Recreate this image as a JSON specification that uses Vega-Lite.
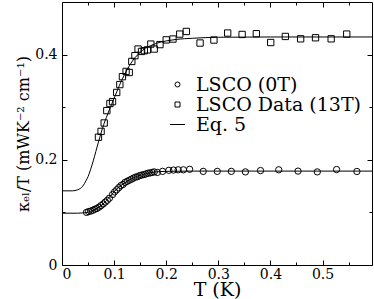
{
  "$schema": "https://vega.github.io/schema/vega-lite/v6.json",
  "width": 310,
  "height": 263,
  "autosize": {"type": "none"},
  "padding": {"left": 62, "top": 2, "right": 2, "bottom": 34},
  "datasets": {
    "fit": [
      {"curve": "B", "T": 0, "k": 0.141}, {"curve": "B", "T": 0.02, "k": 0.141}, {"curve": "B", "T": 0.03, "k": 0.143},
      {"curve": "B", "T": 0.04, "k": 0.15}, {"curve": "B", "T": 0.046, "k": 0.16}, {"curve": "B", "T": 0.05, "k": 0.168},
      {"curve": "B", "T": 0.055, "k": 0.182}, {"curve": "B", "T": 0.06, "k": 0.198}, {"curve": "B", "T": 0.065, "k": 0.216},
      {"curve": "B", "T": 0.07, "k": 0.234}, {"curve": "B", "T": 0.075, "k": 0.251}, {"curve": "B", "T": 0.08, "k": 0.267},
      {"curve": "B", "T": 0.085, "k": 0.28}, {"curve": "B", "T": 0.09, "k": 0.293}, {"curve": "B", "T": 0.095, "k": 0.305},
      {"curve": "B", "T": 0.1, "k": 0.317}, {"curve": "B", "T": 0.105, "k": 0.329}, {"curve": "B", "T": 0.11, "k": 0.341},
      {"curve": "B", "T": 0.115, "k": 0.352}, {"curve": "B", "T": 0.12, "k": 0.362}, {"curve": "B", "T": 0.13, "k": 0.38},
      {"curve": "B", "T": 0.14, "k": 0.394}, {"curve": "B", "T": 0.15, "k": 0.404}, {"curve": "B", "T": 0.16, "k": 0.412},
      {"curve": "B", "T": 0.17, "k": 0.417}, {"curve": "B", "T": 0.18, "k": 0.421}, {"curve": "B", "T": 0.19, "k": 0.424},
      {"curve": "B", "T": 0.2, "k": 0.426}, {"curve": "B", "T": 0.22, "k": 0.429}, {"curve": "B", "T": 0.25, "k": 0.431},
      {"curve": "B", "T": 0.3, "k": 0.433}, {"curve": "B", "T": 0.4, "k": 0.4335}, {"curve": "B", "T": 0.595, "k": 0.4335},
      {"curve": "A", "T": 0, "k": 0.0985}, {"curve": "A", "T": 0.03, "k": 0.0985}, {"curve": "A", "T": 0.04, "k": 0.099},
      {"curve": "A", "T": 0.05, "k": 0.1005}, {"curve": "A", "T": 0.06, "k": 0.104}, {"curve": "A", "T": 0.07, "k": 0.109},
      {"curve": "A", "T": 0.08, "k": 0.117}, {"curve": "A", "T": 0.09, "k": 0.128}, {"curve": "A", "T": 0.1, "k": 0.139},
      {"curve": "A", "T": 0.11, "k": 0.149}, {"curve": "A", "T": 0.12, "k": 0.156}, {"curve": "A", "T": 0.13, "k": 0.162},
      {"curve": "A", "T": 0.14, "k": 0.167}, {"curve": "A", "T": 0.15, "k": 0.1705}, {"curve": "A", "T": 0.16, "k": 0.1735},
      {"curve": "A", "T": 0.17, "k": 0.1755}, {"curve": "A", "T": 0.18, "k": 0.177}, {"curve": "A", "T": 0.2, "k": 0.178},
      {"curve": "A", "T": 0.25, "k": 0.1785}, {"curve": "A", "T": 0.595, "k": 0.1785}
    ],
    "pts": [
      {"series": "LSCO (0T)", "T": 0.047, "k": 0.1}, {"series": "LSCO (0T)", "T": 0.051, "k": 0.1015},
      {"series": "LSCO (0T)", "T": 0.055, "k": 0.1025}, {"series": "LSCO (0T)", "T": 0.059, "k": 0.104},
      {"series": "LSCO (0T)", "T": 0.063, "k": 0.106}, {"series": "LSCO (0T)", "T": 0.067, "k": 0.1075},
      {"series": "LSCO (0T)", "T": 0.071, "k": 0.11}, {"series": "LSCO (0T)", "T": 0.075, "k": 0.113},
      {"series": "LSCO (0T)", "T": 0.079, "k": 0.116}, {"series": "LSCO (0T)", "T": 0.083, "k": 0.1195},
      {"series": "LSCO (0T)", "T": 0.087, "k": 0.123}, {"series": "LSCO (0T)", "T": 0.091, "k": 0.127},
      {"series": "LSCO (0T)", "T": 0.097, "k": 0.134}, {"series": "LSCO (0T)", "T": 0.101, "k": 0.139},
      {"series": "LSCO (0T)", "T": 0.105, "k": 0.143}, {"series": "LSCO (0T)", "T": 0.109, "k": 0.147},
      {"series": "LSCO (0T)", "T": 0.113, "k": 0.151}, {"series": "LSCO (0T)", "T": 0.117, "k": 0.153},
      {"series": "LSCO (0T)", "T": 0.121, "k": 0.157}, {"series": "LSCO (0T)", "T": 0.125, "k": 0.159},
      {"series": "LSCO (0T)", "T": 0.129, "k": 0.161}, {"series": "LSCO (0T)", "T": 0.133, "k": 0.163},
      {"series": "LSCO (0T)", "T": 0.137, "k": 0.165}, {"series": "LSCO (0T)", "T": 0.141, "k": 0.167},
      {"series": "LSCO (0T)", "T": 0.145, "k": 0.168}, {"series": "LSCO (0T)", "T": 0.149, "k": 0.17},
      {"series": "LSCO (0T)", "T": 0.153, "k": 0.171}, {"series": "LSCO (0T)", "T": 0.157, "k": 0.172},
      {"series": "LSCO (0T)", "T": 0.161, "k": 0.173}, {"series": "LSCO (0T)", "T": 0.165, "k": 0.1745},
      {"series": "LSCO (0T)", "T": 0.169, "k": 0.175}, {"series": "LSCO (0T)", "T": 0.173, "k": 0.176},
      {"series": "LSCO (0T)", "T": 0.177, "k": 0.177}, {"series": "LSCO (0T)", "T": 0.183, "k": 0.176},
      {"series": "LSCO (0T)", "T": 0.193, "k": 0.178}, {"series": "LSCO (0T)", "T": 0.205, "k": 0.18},
      {"series": "LSCO (0T)", "T": 0.214, "k": 0.1805}, {"series": "LSCO (0T)", "T": 0.223, "k": 0.181},
      {"series": "LSCO (0T)", "T": 0.233, "k": 0.181}, {"series": "LSCO (0T)", "T": 0.245, "k": 0.182},
      {"series": "LSCO (0T)", "T": 0.271, "k": 0.178}, {"series": "LSCO (0T)", "T": 0.298, "k": 0.178},
      {"series": "LSCO (0T)", "T": 0.325, "k": 0.178}, {"series": "LSCO (0T)", "T": 0.352, "k": 0.177},
      {"series": "LSCO (0T)", "T": 0.381, "k": 0.1795}, {"series": "LSCO (0T)", "T": 0.416, "k": 0.181},
      {"series": "LSCO (0T)", "T": 0.453, "k": 0.1785}, {"series": "LSCO (0T)", "T": 0.49, "k": 0.177},
      {"series": "LSCO (0T)", "T": 0.527, "k": 0.1815}, {"series": "LSCO (0T)", "T": 0.566, "k": 0.1778},
      {"series": "LSCO Data (13T)", "T": 0.07, "k": 0.243}, {"series": "LSCO Data (13T)", "T": 0.075, "k": 0.254},
      {"series": "LSCO Data (13T)", "T": 0.081, "k": 0.27}, {"series": "LSCO Data (13T)", "T": 0.086, "k": 0.2935},
      {"series": "LSCO Data (13T)", "T": 0.092, "k": 0.307}, {"series": "LSCO Data (13T)", "T": 0.097, "k": 0.3106},
      {"series": "LSCO Data (13T)", "T": 0.105, "k": 0.328}, {"series": "LSCO Data (13T)", "T": 0.111, "k": 0.343},
      {"series": "LSCO Data (13T)", "T": 0.116, "k": 0.358}, {"series": "LSCO Data (13T)", "T": 0.123, "k": 0.368},
      {"series": "LSCO Data (13T)", "T": 0.129, "k": 0.366}, {"series": "LSCO Data (13T)", "T": 0.134, "k": 0.387},
      {"series": "LSCO Data (13T)", "T": 0.14, "k": 0.398}, {"series": "LSCO Data (13T)", "T": 0.146, "k": 0.4106},
      {"series": "LSCO Data (13T)", "T": 0.1526, "k": 0.406}, {"series": "LSCO Data (13T)", "T": 0.158, "k": 0.4074},
      {"series": "LSCO Data (13T)", "T": 0.164, "k": 0.409}, {"series": "LSCO Data (13T)", "T": 0.1705, "k": 0.42},
      {"series": "LSCO Data (13T)", "T": 0.177, "k": 0.4106}, {"series": "LSCO Data (13T)", "T": 0.188, "k": 0.419},
      {"series": "LSCO Data (13T)", "T": 0.2, "k": 0.428}, {"series": "LSCO Data (13T)", "T": 0.213, "k": 0.4296},
      {"series": "LSCO Data (13T)", "T": 0.226, "k": 0.439}, {"series": "LSCO Data (13T)", "T": 0.2386, "k": 0.444},
      {"series": "LSCO Data (13T)", "T": 0.265, "k": 0.422}, {"series": "LSCO Data (13T)", "T": 0.2916, "k": 0.4277},
      {"series": "LSCO Data (13T)", "T": 0.318, "k": 0.441}, {"series": "LSCO Data (13T)", "T": 0.3457, "k": 0.4383},
      {"series": "LSCO Data (13T)", "T": 0.373, "k": 0.4397}, {"series": "LSCO Data (13T)", "T": 0.4006, "k": 0.423},
      {"series": "LSCO Data (13T)", "T": 0.4287, "k": 0.4345}, {"series": "LSCO Data (13T)", "T": 0.458, "k": 0.43},
      {"series": "LSCO Data (13T)", "T": 0.4866, "k": 0.432}, {"series": "LSCO Data (13T)", "T": 0.5166, "k": 0.43},
      {"series": "LSCO Data (13T)", "T": 0.5465, "k": 0.439}
    ]
  },
  "layer": [
    {
      "data": {"name": "fit"},
      "mark": {"type": "line", "color": "black", "strokeWidth": 1, "interpolate": "monotone"},
      "encoding": {
        "x": {
          "field": "T", "type": "quantitative",
          "scale": {"domain": [0, 0.595], "nice": false, "zero": false},
          "axis": {
            "orient": "bottom", "title": "T (K)", "format": "~g",
            "values": [0, 0.05, 0.1, 0.15, 0.2, 0.25, 0.3, 0.35, 0.4, 0.45, 0.5, 0.55],
            "tickSize": {"condition": {"test": "abs(datum.value*10 - round(datum.value*10)) < 0.01", "value": -5}, "value": -3},
            "labelExpr": "abs(datum.value*10 - round(datum.value*10)) < 0.01 ? datum.label : ''",
            "labelOverlap": false, "labelPadding": 7, "titlePadding": -3
          }
        },
        "y": {
          "field": "k", "type": "quantitative",
          "scale": {"domain": [0, 0.5], "nice": false},
          "axis": {
            "orient": "left", "title": "κₑₗ/T (mWK⁻² cm⁻¹)", "format": "~g",
            "values": [0, 0.1, 0.2, 0.3, 0.4],
            "tickSize": {"condition": {"test": "abs(datum.value*5 - round(datum.value*5)) < 0.01", "value": -5}, "value": -3},
            "labelExpr": "abs(datum.value*5 - round(datum.value*5)) < 0.01 ? datum.label : ''",
            "labelOverlap": false, "labelPadding": 10, "titlePadding": 3, "titleFontSize": 16
          }
        },
        "detail": {"field": "curve"}
      }
    },
    {
      "data": {"name": "pts"},
      "mark": {"type": "point", "filled": false, "color": "black", "strokeWidth": 1, "size": 40, "opacity": 1},
      "encoding": {
        "x": {
          "field": "T", "type": "quantitative",
          "axis": {
            "orient": "top", "title": null, "labels": false,
            "values": [0, 0.05, 0.1, 0.15, 0.2, 0.25, 0.3, 0.35, 0.4, 0.45, 0.5, 0.55],
            "tickSize": {"condition": {"test": "abs(datum.value*10 - round(datum.value*10)) < 0.01", "value": -5}, "value": -3}
          }
        },
        "y": {
          "field": "k", "type": "quantitative",
          "axis": {
            "orient": "right", "title": null, "labels": false,
            "values": [0, 0.1, 0.2, 0.3, 0.4],
            "tickSize": {"condition": {"test": "abs(datum.value*5 - round(datum.value*5)) < 0.01", "value": -5}, "value": -3}
          }
        },
        "shape": {
          "field": "series", "type": "nominal",
          "scale": {"domain": ["LSCO (0T)", "LSCO Data (13T)", "Eq. 5"], "range": ["circle", "square", "M-3,0H3"]},
          "legend": {
            "orient": "none", "legendX": 106, "legendY": 73, "title": null, "padding": 0,
            "labelFont": "DejaVu Serif", "labelFontSize": 19, "labelColor": "black", "labelLimit": 300,
            "symbolSize": 25, "symbolStrokeColor": "black", "symbolStrokeWidth": 1, "symbolFillColor": "transparent",
            "rowPadding": 0, "labelOffset": 9
          }
        }
      }
    }
  ],
  "resolve": {"axis": {"x": "independent", "y": "independent"}},
  "config": {
    "font": "DejaVu Serif",
    "view": {"stroke": "black", "strokeWidth": 1},
    "axis": {
      "domain": false, "grid": false, "tickColor": "black", "tickWidth": 1,
      "labelFont": "DejaVu Serif", "labelFontSize": 14, "labelColor": "black",
      "titleFont": "DejaVu Serif", "titleFontSize": 19, "titleFontWeight": "normal", "titleColor": "black"
    }
  }
}
